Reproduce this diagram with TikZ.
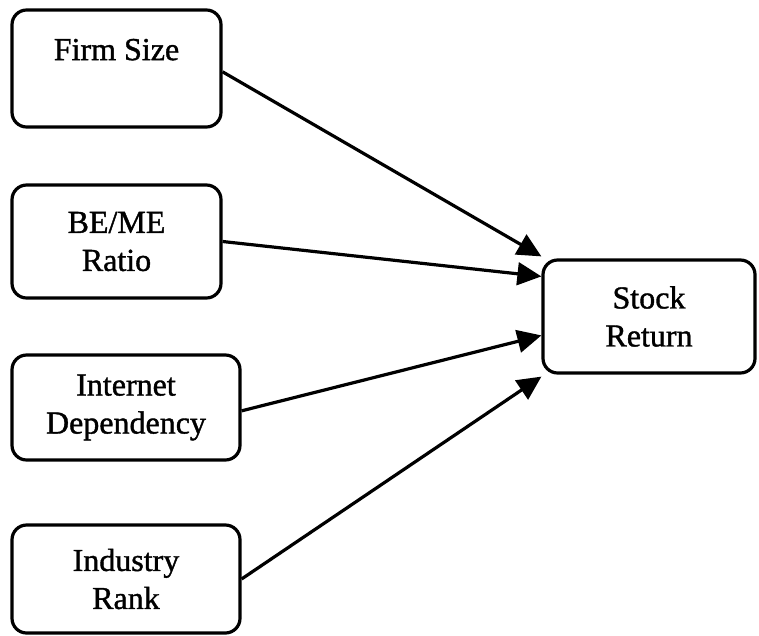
\documentclass[tikz,border=0pt]{standalone}
\usepackage{fontspec}
\setmainfont{Liberation Serif}
\newfontfamily\boxfont{Liberation Serif}[FakeBold=1.2]
\usetikzlibrary{arrows.meta}
\begin{document}
\begin{tikzpicture}[x=0.75pt,y=-0.75pt,
  box/.style={draw=black, line width=2.4pt, rounded corners=11pt, align=center,
    inner sep=0pt, font=\boxfont\fontsize{24}{28.5}\selectfont, text=black},
  link/.style={line width=2.4pt, -{Triangle[length=18pt,width=17pt]}}]
\useasboundingbox (0,0) rectangle (759,635);
% predictor boxes
\node[box, minimum width=156.75pt, minimum height=87.75pt] (fs) at (116.5,68.5) {Firm Size\\\mbox{}};
\node[box, minimum width=156.75pt, minimum height=84.75pt] (be) at (116.5,241.5) {BE/ME\\Ratio};
\node[box, minimum width=171pt, minimum height=78.75pt] (id) at (126,407.5) {Internet\\Dependency};
\node[box, minimum width=171pt, minimum height=81pt] (ir) at (126,579) {Industry\\Rank};
% outcome box
\node[box, minimum width=159pt, minimum height=84.75pt] (st) at (649,316.5) {Stock\\Return};
% paths into the outcome
\draw[link] ([yshift=-2.5pt]fs.east) -- ([yshift=1.5pt]st.north west);
\draw[link] (be.east) -- ([yshift=-13.5pt]st.north west);
\draw[link] ([yshift=-2.5pt]id.east) -- ([yshift=-57.75pt]st.north west);
\draw[link] (ir.east) -- ([yshift=-1.5pt]st.south west);
\end{tikzpicture}
\end{document}
